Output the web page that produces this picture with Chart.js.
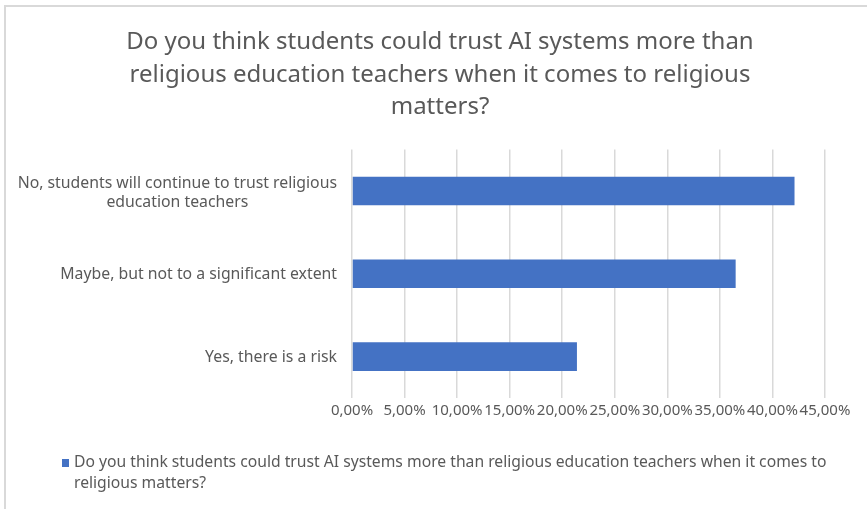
<!DOCTYPE html>
<html>
<head>
<meta charset="utf-8">
<script src="https://cdn.jsdelivr.net/npm/chart.js@4/dist/chart.umd.min.js"></script>
<style>
  html, body { margin: 0; padding: 0; background: #ffffff; }
  #wrap { width: 867px; height: 509px; position: relative; }
</style>
</head>
<body>
<div id="wrap"><canvas id="trustChart" width="867" height="509"></canvas></div>
<script>
"use strict";

// --- ข้อมูลของกราฟ ---
const TITLE_LINES = [
    'Do you think students could trust AI systems more than',
    'religious education teachers when it comes to religious',
    'matters?'
];
const CATEGORIES = [
    ['No, students will continue to trust religious', 'education teachers'],
    ['Maybe, but not to a significant extent'],
    ['Yes, there is a risk']
];
const SHARE_VALUES = [0.421, 0.365, 0.214];
const SERIES_NAME = 'Do you think students could trust AI systems more than religious education teachers when it comes to religious matters?';
const X_MIN = 0;
const X_MAX = 0.45;
const X_STEP = 0.05;

const BAR_COLOR = '#4472c4';
const TEXT_COLOR = '#595959';
const GRID_COLOR = '#d9d9d9';
const FONT_FAMILY = "'Noto Sans', 'Open Sans', sans-serif";

// 0.05 -> "5,00%"
function formatPercent(v) {
    return (v * 100).toFixed(2).replace('.', ',') + '%';
}

// กรอบด้านซ้ายและด้านบนของพื้นที่กราฟ
const frameLines = {
    id: 'frameLines',
    beforeDraw(chart) {
        const ctx = chart.ctx;
        ctx.save();
        ctx.strokeStyle = GRID_COLOR;
        ctx.lineWidth = 2;
        ctx.beginPath();
        ctx.moveTo(5, chart.height);
        ctx.lineTo(5, 6);
        ctx.lineTo(chart.width, 6);
        ctx.stroke();
        ctx.restore();
    }
};

// ป้ายหมวดหมู่แกน Y: ชิดขวา แต่ละบรรทัดจัดกึ่งกลางในกล่องของตัวเอง
const categoryLabels = {
    id: 'categoryLabels',
    afterDraw(chart) {
        const ctx = chart.ctx;
        const yScale = chart.scales.y;
        const right = chart.chartArea.left - 15;
        const lineHeight = 19;
        ctx.save();
        ctx.font = `15.8px ${FONT_FAMILY}`;
        ctx.fillStyle = TEXT_COLOR;
        ctx.textAlign = 'center';
        ctx.textBaseline = 'middle';
        CATEGORIES.forEach((lines, i) => {
            const blockWidth = Math.max(...lines.map(l => ctx.measureText(l).width));
            const cx = right - blockWidth / 2;
            const cy = yScale.getPixelForValue(i) + (lines.length > 1 ? 2 : 1);
            lines.forEach((line, j) => {
                ctx.fillText(line, cx, cy + (j - (lines.length - 1) / 2) * lineHeight);
            });
        });
        ctx.restore();
    }
};

// legend แบบตัดบรรทัดได้ (legend ปกติของ Chart.js ไม่ตัดบรรทัด)
const wrappedLegend = {
    id: 'wrappedLegend',
    afterDraw(chart) {
        const ctx = chart.ctx;
        const boxX = 62;
        const textX = 74;
        const maxRight = 845;
        const top = chart.chartArea.bottom + 65;
        const lineHeight = 21;
        ctx.save();
        ctx.font = `15.7px ${FONT_FAMILY}`;
        const words = SERIES_NAME.split(' ');
        const lines = [];
        let current = '';
        words.forEach(w => {
            const test = current ? current + ' ' + w : w;
            if (ctx.measureText(test).width > maxRight - textX && current) {
                lines.push(current);
                current = w;
            } else {
                current = test;
            }
        });
        if (current) lines.push(current);

        ctx.fillStyle = BAR_COLOR;
        ctx.fillRect(boxX, top - 4, 7, 8);
        ctx.fillStyle = TEXT_COLOR;
        ctx.textAlign = 'left';
        ctx.textBaseline = 'middle';
        lines.forEach((line, j) => ctx.fillText(line, textX, top + j * lineHeight));
        ctx.restore();
    }
};

new Chart(document.getElementById('trustChart').getContext('2d'), {
    type: 'bar',
    data: {
        labels: CATEGORIES,
        datasets: [{
            label: SERIES_NAME,
            data: SHARE_VALUES,
            backgroundColor: BAR_COLOR,
            borderWidth: 0,
            categoryPercentage: 1.0,
            barPercentage: 0.345
        }]
    },
    options: {
        indexAxis: 'y',
        responsive: false,
        animation: false,
        layout: { padding: { top: 20, left: 55, right: 42, bottom: 0 } },
        plugins: {
            legend: { display: false },
            tooltip: { enabled: false },
            title: {
                display: true,
                text: TITLE_LINES,
                color: TEXT_COLOR,
                font: { family: FONT_FAMILY, size: 24, weight: 'normal', lineHeight: 1.355 },
                padding: { top: 6, bottom: 26 }
            }
        },
        scales: {
            x: {
                min: X_MIN,
                max: X_MAX,
                ticks: {
                    stepSize: X_STEP,
                    autoSkip: false,
                    maxRotation: 0,
                    color: TEXT_COLOR,
                    font: { family: FONT_FAMILY, size: 15 },
                    padding: 4,
                    callback: v => formatPercent(v)
                },
                grid: { color: GRID_COLOR, lineWidth: 1.5, drawTicks: false },
                border: { display: false },
                afterFit(scale) { scale.height = 111; }
            },
            y: {
                ticks: { display: false },
                grid: { display: false, drawTicks: false },
                border: { display: false },
                afterFit(scale) { scale.width = 297; }
            }
        }
    },
    plugins: [frameLines, categoryLabels, wrappedLegend]
});
</script>
</body>
</html>
